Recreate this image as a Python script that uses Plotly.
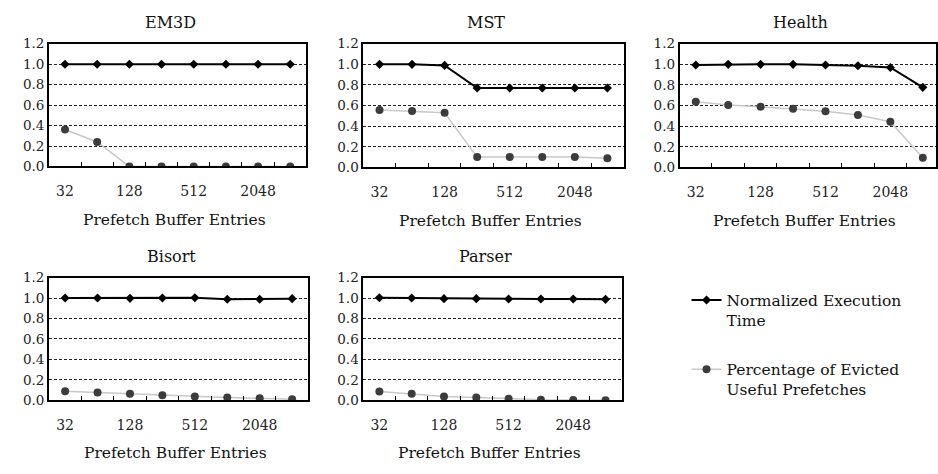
import plotly.graph_objects as go

# Prefetch buffer sizes (entries)
buffer_entries = [32, 64, 128, 256, 512, 1024, 2048, 4096]
shown_ticks = [32, 128, 512, 2048]

benchmarks = ["EM3D", "MST", "Health", "Bisort", "Parser"]

exec_time = {
    "EM3D":   [1.00, 1.00, 1.00, 1.00, 1.00, 1.00, 1.00, 1.00],
    "MST":    [1.00, 1.00, 0.99, 0.77, 0.77, 0.77, 0.77, 0.77],
    "Health": [0.994, 1.00, 1.00, 1.00, 0.994, 0.987, 0.97, 0.777],
    "Bisort": [1.00, 1.00, 0.997, 1.00, 1.003, 0.988, 0.988, 0.994],
    "Parser": [1.003, 1.00, 0.994, 0.994, 0.99, 0.99, 0.99, 0.987],
}

evicted_useful = {
    "EM3D":   [0.362, 0.239, 0.0, 0.0, 0.0, 0.0, 0.0, 0.0],
    "MST":    [0.556, 0.547, 0.531, 0.10, 0.10, 0.10, 0.10, 0.09],
    "Health": [0.638, 0.606, 0.588, 0.569, 0.544, 0.509, 0.443, 0.094],
    "Bisort": [0.088, 0.075, 0.063, 0.05, 0.038, 0.028, 0.019, 0.01],
    "Parser": [0.085, 0.063, 0.038, 0.028, 0.016, 0.006, 0.003, 0.0],
}

series_names = ["Normalized Execution<br>Time", "Percentage of Evicted<br>Useful Prefetches"]

W, H = 938, 474

# panel boxes in pixels: left, right, top, bottom
panels = {
    "EM3D":   (49, 307, 37, 164),
    "MST":    (364, 625, 37, 165),
    "Health": (681, 938, 37, 165),
    "Bisort": (49, 309, 279, 406),
    "Parser": (364, 623, 279, 406),
}


def px_x(p):
    return p / W


def px_y(p):
    return 1 - p / H


FONT = "DejaVu Serif"

fig = go.Figure()
idx = list(range(len(buffer_entries)))
annotations = []

for i, name in enumerate(benchmarks):
    n = i + 1
    xa = "x" if n == 1 else f"x{n}"
    ya = "y" if n == 1 else f"y{n}"
    l, r, t, b = panels[name]

    fig.add_trace(go.Scatter(
        x=idx, y=exec_time[name], xaxis=xa, yaxis=ya,
        mode="lines+markers", name=series_names[0],
        line=dict(color="black", width=2),
        marker=dict(symbol="diamond", size=7, color="black"),
        legendgroup="exec", showlegend=(i == 0),
    ))
    fig.add_trace(go.Scatter(
        x=idx, y=evicted_useful[name], xaxis=xa, yaxis=ya,
        mode="lines+markers", name=series_names[1],
        line=dict(color="#c8c8c8", width=1.5),
        marker=dict(symbol="circle", size=8, color="#3c3c3c"),
        legendgroup="evict", showlegend=(i == 0),
    ))

    # the right-hand panel is clipped at the page edge
    right_extent = 7.5 if r < W else 7.5 - 3 / 32.4

    fig.layout[("xaxis" if n == 1 else f"xaxis{n}")] = dict(
        domain=[px_x(l), px_x(r)], anchor=ya,
        range=[-0.5, right_extent],
        tickmode="array",
        tickvals=[buffer_entries.index(v) for v in shown_ticks],
        ticktext=[str(v) for v in shown_ticks],
        ticks="", showgrid=False, zeroline=False,
        showline=True, linecolor="black", linewidth=1.5, mirror=True,
        ticklabelstandoff=11,
        tickfont=dict(family=FONT, size=14, color="#222"),
        minor=dict(tickmode="array",
                   tickvals=[k + 0.5 for k in idx[:-1]],
                   ticks="inside", ticklen=5, tickcolor="black", tickwidth=1),
    )
    fig.layout[("yaxis" if n == 1 else f"yaxis{n}")] = dict(
        domain=[px_y(b), px_y(t)], anchor=xa,
        range=[0, 1.2], dtick=0.2, tick0=0, tickformat=".1f",
        ticks="", showgrid=True, gridcolor="#222", gridwidth=0.7,
        griddash="3px,2px", zeroline=False,
        showline=True, linecolor="black", linewidth=1.5, mirror=True,
        tickfont=dict(family=FONT, size=13.5, color="#222"),
    )

    cx = (l + r) / 2 - 7
    annotations.append(dict(
        text=name, x=px_x(cx), y=px_y(t - 22), xref="paper", yref="paper",
        showarrow=False, xanchor="center", yanchor="middle",
        font=dict(family=FONT, size=16, color="#111"),
    ))
    annotations.append(dict(
        text="Prefetch Buffer Entries", x=px_x(cx + 4), y=px_y(b + 55),
        xref="paper", yref="paper", showarrow=False,
        xanchor="center", yanchor="middle",
        font=dict(family=FONT, size=15.5, color="#111"),
    ))

fig.update_layout(
    width=W, height=H,
    margin=dict(l=0, r=0, t=0, b=0),
    font=dict(family=FONT, size=15, color="#111"),
    paper_bgcolor="white", plot_bgcolor="white",
    annotations=annotations,
    showlegend=True,
    legend=dict(
        x=px_x(688), y=px_y(285), xanchor="left", yanchor="top",
        font=dict(family=FONT, size=15.5, color="#111"),
        valign="top", tracegroupgap=26, itemwidth=30,
        bgcolor="rgba(0,0,0,0)",
    ),
)

fig.write_html("out.html")
